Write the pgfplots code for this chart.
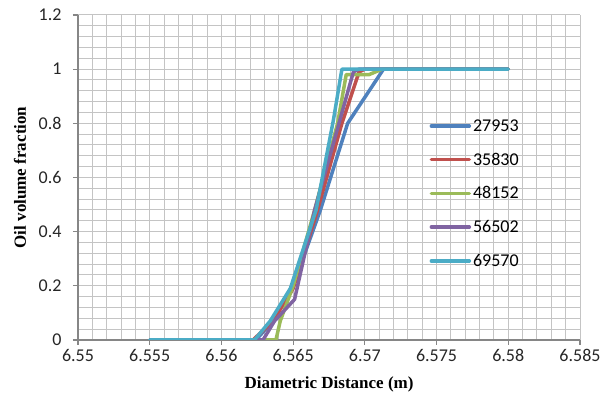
\documentclass[border=0pt]{standalone}
\usepackage{fontspec}
\setmainfont{Carlito}
\newfontfamily\tnr{Liberation Serif}
\usepackage{pgfplots}
\pgfplotsset{compat=1.18}
\definecolor{sBlue}{HTML}{4F81BD}
\definecolor{sRed}{HTML}{C0504D}
\definecolor{sGreen}{HTML}{9BBB59}
\definecolor{sPurple}{HTML}{8064A2}
\definecolor{sCyan}{HTML}{4BACC6}
\definecolor{gridc}{HTML}{C4C4C4}
\definecolor{axc}{HTML}{868686}
\begin{document}
\begin{tikzpicture}
\begin{axis}[
  name=ax,
  width=502pt, height=325pt, scale only axis,
  xmin=6.55, xmax=6.585, ymin=0, ymax=1.2,
  xtick={6.55,6.555,6.56,6.565,6.57,6.575,6.58,6.585},
  ytick={0,0.2,0.4,0.6,0.8,1,1.2},
  minor x tick num=4, minor y tick num=4,
  grid=both,
  major grid style={gridc, line width=1pt},
  minor grid style={gridc, line width=1pt},
  axis lines*=left,
  axis line style={axc, line width=1.1pt},
  tick align=outside,
  major tick length=5pt, minor tick length=0pt,
  tick style={axc, line width=1.1pt},
  /pgf/number format/assume math mode=true,
  xticklabel style={/pgf/number format/fixed, /pgf/number format/precision=3, font=\fontsize{18}{20}\selectfont, text=black!85, yshift=-1pt},
  yticklabel style={/pgf/number format/fixed, font=\fontsize{18}{20}\selectfont, text=black!85, xshift=-8pt},
  scaled x ticks=false,
  xlabel={\tnr\bfseries Diametric Distance (m)},
  ylabel={\tnr\bfseries Oil volume fraction},
  xlabel style={font=\fontsize{17}{19}\selectfont, at={(axis description cs:0.5,-0.138)}, anchor=center, inner sep=0pt},
  ylabel style={font=\fontsize{17}{19}\selectfont, at={(axis description cs:-0.1155,0.5)}, anchor=center, inner sep=0pt},
  every axis plot/.append style={line width=3.5pt, line cap=round, line join=round, mark=none},
  legend style={draw=none, fill=none, at={(0.70,0.685)}, anchor=north west,
    font=\fontsize{18}{20}\selectfont, row sep=16pt, inner sep=0pt},
  legend cell align=left,
  legend image code/.code={\draw[#1] (0pt,0pt) -- (38pt,0pt);},
]
\addplot[sBlue] coordinates {(6.555,0) (6.5624,0) (6.5636,0.07) (6.5650,0.20) (6.5669,0.48) (6.5688,0.80) (6.5713,1) (6.58,1)};
\addlegendentry{27953}
\addplot[sRed] coordinates {(6.555,0) (6.5622,0) (6.5636,0.07) (6.5650,0.19) (6.5667,0.48) (6.5684,0.80) (6.5696,0.99) (6.5700,1) (6.58,1)};
\addlegendentry{35830}
\addplot[sGreen] coordinates {(6.555,0) (6.5638,0) (6.5641,0.07) (6.5650,0.20) (6.5665,0.48) (6.5681,0.80) (6.5687,0.98) (6.5703,0.98) (6.5712,1) (6.58,1)};
\addlegendentry{48152}
\addplot[sPurple] coordinates {(6.555,0) (6.5629,0) (6.5637,0.07) (6.5651,0.15) (6.5665,0.48) (6.5683,0.82) (6.5692,0.99) (6.5696,1) (6.58,1)};
\addlegendentry{56502}
\addplot[sCyan] coordinates {(6.555,0) (6.5623,0) (6.5634,0.07) (6.5648,0.19) (6.5666,0.48) (6.5678,0.81) (6.5684,1) (6.58,1)};
\addlegendentry{69570}
\end{axis}
\path ([xshift=-78pt,yshift=-60pt]ax.south west) rectangle ([xshift=27pt,yshift=15pt]ax.north east);
\end{tikzpicture}
\end{document}
